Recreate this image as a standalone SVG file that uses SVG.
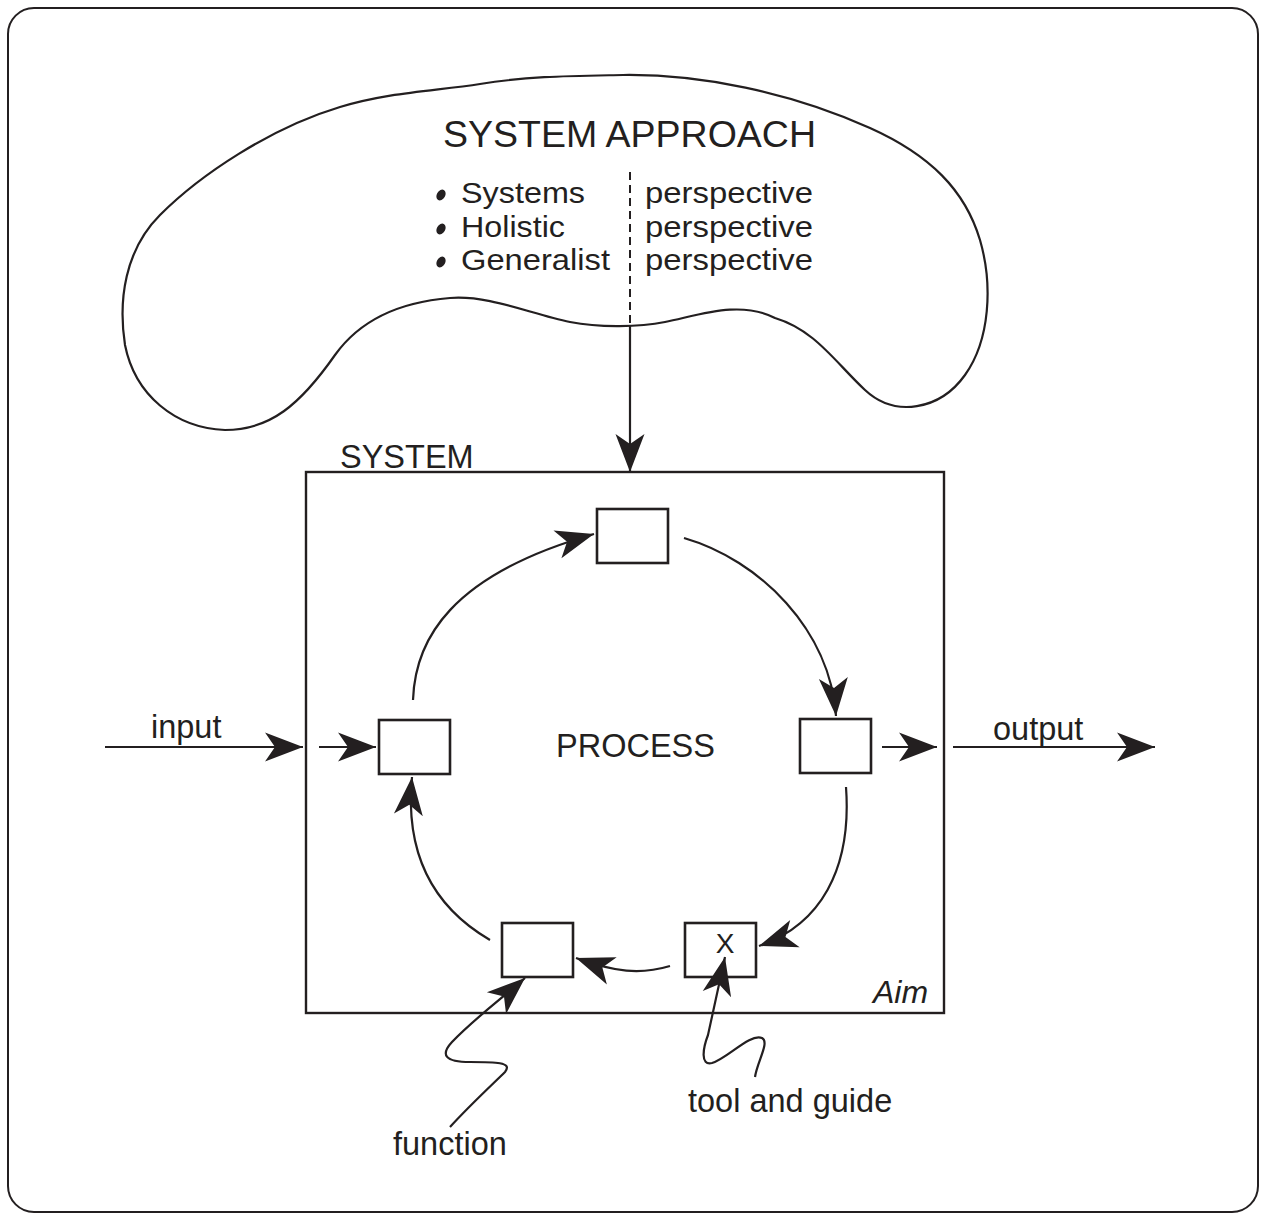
<svg xmlns="http://www.w3.org/2000/svg" width="1265" height="1218" viewBox="0 0 1265 1218">
  <style>
    .t { font-family: "Liberation Sans", Arial, sans-serif; fill: #231f20; }
    .ln { fill: none; stroke: #231f20; stroke-width: 2.2; }
    .bx { fill: #fff; stroke: #231f20; stroke-width: 2.6; }
    .arr { fill: none; stroke: #231f20; stroke-width: 2.2; marker-end: url(#ah); }
    .li { font-size: 30px; }
  </style>
  <defs>
    <marker id="ah" viewBox="-39 -16 40 32" refX="0" refY="0" markerWidth="40" markerHeight="32" markerUnits="userSpaceOnUse" orient="auto">
      <path d="M0,0 L-38,-14.5 L-28,0 L-38,14.5 Z" fill="#231f20"/>
    </marker>
  </defs>

  <rect x="0" y="0" width="1265" height="1218" fill="#fff"/>
  <!-- outer frame -->
  <rect x="8" y="8" width="1250" height="1204" rx="26" ry="26" fill="none" stroke="#231f20" stroke-width="2"/>

  <!-- cloud: system approach -->
  <g id="system-approach">
    <path class="ln" d="M623,75 C700,74 790,92 870,128 C930,155 965,190 980,240 C993,285 990,340 965,375 C940,410 895,418 865,390 C835,362 815,330 775,318 C740,300 700,315 665,322 C640,327 600,328 570,322 C530,314 490,295 450,298 C400,302 360,320 335,355 C300,405 270,430 225,430 C175,428 135,395 125,345 C118,300 125,250 160,215 C200,175 270,128 340,107 C390,92 435,91 480,84 C530,76 570,76 623,75 Z"/>
    <text class="t" x="443" y="147" font-size="37.5">SYSTEM APPROACH</text>
    <g fill="#231f20">
      <ellipse cx="441" cy="195" rx="4.2" ry="5.8" transform="rotate(30 441 195)"/>
      <ellipse cx="441" cy="229" rx="4.2" ry="5.8" transform="rotate(30 441 229)"/>
      <ellipse cx="441" cy="262" rx="4.2" ry="5.8" transform="rotate(30 441 262)"/>
    </g>
    <text class="t li" x="461" y="203" textLength="124" lengthAdjust="spacingAndGlyphs">Systems</text>
    <text class="t li" x="461" y="237" textLength="104" lengthAdjust="spacingAndGlyphs">Holistic</text>
    <text class="t li" x="461" y="270" textLength="149" lengthAdjust="spacingAndGlyphs">Generalist</text>
    <text class="t li" x="645" y="203" textLength="168" lengthAdjust="spacingAndGlyphs">perspective</text>
    <text class="t li" x="645" y="237" textLength="168" lengthAdjust="spacingAndGlyphs">perspective</text>
    <text class="t li" x="645" y="270" textLength="168" lengthAdjust="spacingAndGlyphs">perspective</text>
    <line x1="630" y1="172" x2="630" y2="326" stroke="#231f20" stroke-width="2" stroke-dasharray="8 5"/>
  </g>

  <!-- system boundary -->
  <g id="system">
    <rect x="306" y="472" width="638" height="541" fill="none" stroke="#231f20" stroke-width="2.4"/>
    <text class="t" x="340" y="468" font-size="32.5">SYSTEM</text>
    <text class="t" x="556" y="757" font-size="32.5">PROCESS</text>
    <text class="t" x="873" y="1003" font-size="32" font-style="italic">Aim</text>
  </g>

  <!-- process steps -->
  <g id="step-top"><rect class="bx" x="597" y="509" width="71" height="54"/></g>
  <g id="step-left"><rect class="bx" x="379" y="720" width="71" height="54"/></g>
  <g id="step-right"><rect class="bx" x="800" y="719" width="71" height="54"/></g>
  <g id="step-bottom-left"><rect class="bx" x="502" y="923" width="71" height="54"/></g>
  <g id="step-x">
    <rect class="bx" x="685" y="923" width="71" height="54"/>
    <text class="t" x="725" y="953" font-size="28" text-anchor="middle">X</text>
  </g>

  <!-- external labels -->
  <g id="input-label"><text class="t" x="151" y="738" font-size="32.5">input</text></g>
  <g id="output-label"><text class="t" x="993" y="740" font-size="32.5">output</text></g>
  <g id="function-label"><text class="t" x="393" y="1155" font-size="32.5">function</text></g>
  <g id="tool-label"><text class="t" x="688" y="1112" font-size="32.5">tool and guide</text></g>

  <!-- connectors -->
  <g id="connectors">
    <line class="arr" x1="630" y1="326" x2="630" y2="472"/>
    <line class="arr" x1="105" y1="747" x2="303" y2="747"/>
    <line class="arr" x1="319" y1="747" x2="376" y2="747"/>
    <line class="arr" x1="882" y1="747" x2="937" y2="747"/>
    <line class="arr" x1="953" y1="747" x2="1155" y2="747"/>
    <path class="arr" d="M413,700 C415,640 450,575 594,534"/>
    <path class="arr" d="M684,538 C760,560 830,630 836,716"/>
    <path class="arr" d="M846,787 C852,870 820,925 759,946"/>
    <path class="arr" d="M670,966 C640,975 615,972 576,958"/>
    <path class="arr" d="M490,940 C430,905 405,850 412,777"/>
    <path class="arr" d="M450,1127 C470,1105 495,1082 505,1072 C513,1062 495,1062 470,1062 C445,1062 440,1055 452,1042 C475,1018 500,1000 525,978"/>
    <path class="arr" d="M755,1077 C757,1062 770,1042 762,1038 C750,1033 728,1058 712,1063 C700,1066 703,1048 708,1035 L725,957"/>
  </g>
</svg>
